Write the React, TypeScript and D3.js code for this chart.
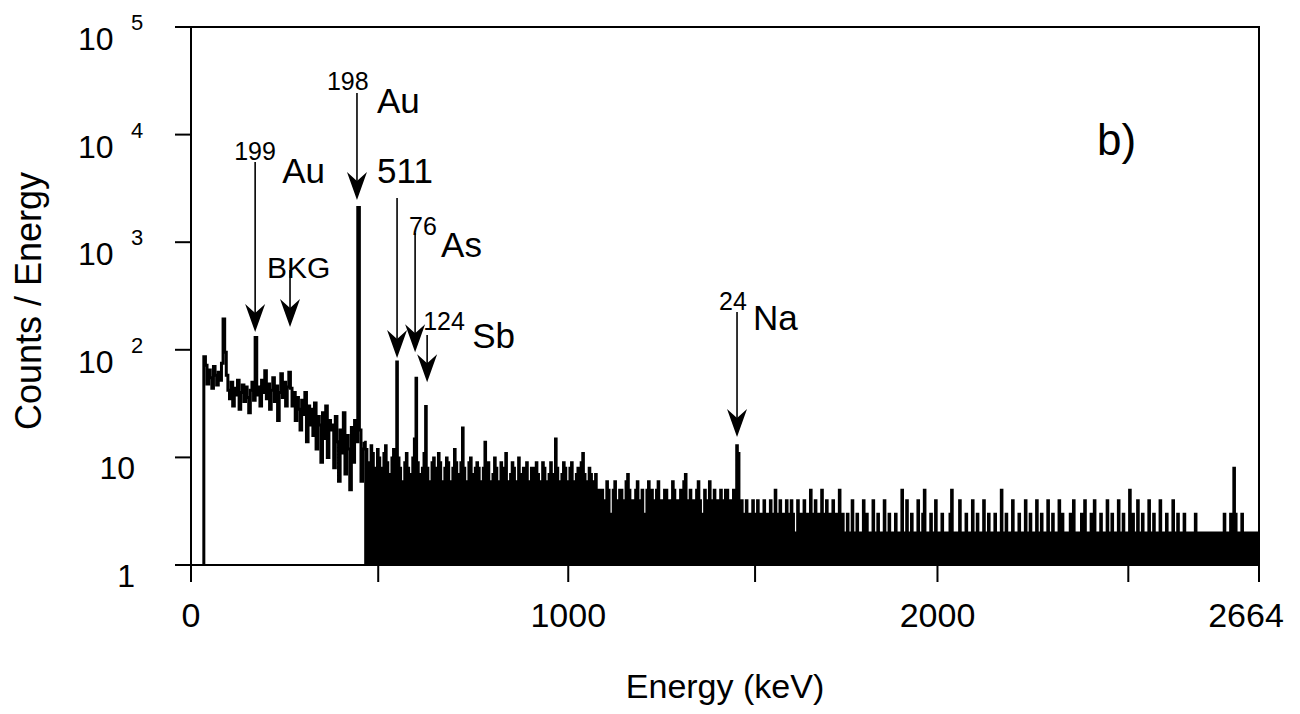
import * as d3 from "d3";

// gamma spectrum, 4 keV bins starting at 32 keV (0 = empty bin)
const BIN_KEV = 4;
const FIRST_BIN_KEV = 32;
const MAX_KEV = 2664;

const counts32to432 = [
  86, 72, 48, 65, 55, 44, 70, 58, 47, 62, 52, 75, 193, 95, 58, 42, 35, 50, 30, 44,
  38, 52, 28, 40, 47, 33, 45, 36, 26, 42, 50, 34, 130, 38, 45, 30, 52, 40, 64, 35,
  48, 28, 42, 55, 33, 46, 22, 40, 60, 36, 50, 30, 45, 62, 44, 30, 40, 22, 36, 28,
  18, 34, 25, 40, 14, 30, 20, 28, 16, 32, 12, 24, 20, 9, 26, 15, 30, 10, 22, 18,
  20, 8, 24, 14, 6, 18, 11, 26, 7, 16, 12, 5, 19, 9, 22, 14, 2100, 18, 6, 12,
];
const counts432to832 = [
  14, 12, 9, 9, 13, 11, 7, 8, 12, 10, 8, 8, 11, 13, 9, 7, 7, 10, 12, 9,
  78, 10, 8, 6, 6, 9, 11, 8, 7, 7, 10, 15, 55, 9, 7, 6, 8, 11, 30, 8,
  6, 6, 9, 10, 8, 7, 11, 9, 6, 6, 8, 10, 9, 6, 5, 8, 12, 9, 7, 7,
  9, 19, 8, 6, 6, 9, 10, 7, 5, 8, 9, 8, 6, 6, 8, 14, 7, 9, 6, 5,
  7, 10, 8, 6, 6, 9, 7, 8, 11, 6, 5, 7, 9, 8, 6, 6, 10, 7, 5, 8,
];
const counts832to1232 = [
  7, 9, 6, 5, 8, 8, 6, 9, 7, 5, 6, 9, 8, 6, 5, 7, 9, 7, 6, 15,
  8, 6, 5, 7, 9, 8, 6, 6, 8, 9, 6, 5, 7, 8, 6, 9, 11, 7, 5, 6,
  8, 7, 5, 6, 7, 5, 4, 5, 5, 4, 4, 6, 5, 3, 3, 5, 6, 4, 4, 5,
  5, 4, 3, 6, 7, 5, 4, 4, 3, 5, 6, 4, 4, 5, 3, 3, 5, 6, 4, 5,
  4, 3, 5, 6, 4, 4, 3, 5, 5, 4, 3, 4, 6, 5, 4, 3, 4, 5, 4, 6,
];
const counts1232to1632 = [
  7, 4, 3, 5, 4, 4, 3, 5, 6, 4, 3, 3, 5, 4, 4, 6, 3, 4, 5, 4,
  3, 4, 5, 4, 3, 5, 5, 4, 3, 4, 5, 4, 13, 11, 2, 4, 3, 2, 4, 3,
  3, 2, 4, 2, 3, 4, 2, 3, 2, 4, 3, 2, 3, 4, 2, 3, 5, 2, 3, 4,
  2, 3, 2, 4, 3, 2, 4, 3, 2, 2, 4, 3, 2, 3, 4, 2, 3, 2, 5, 3,
  2, 4, 2, 3, 2, 5, 3, 2, 4, 2, 3, 2, 4, 3, 2, 3, 5, 2, 3, 2,
];
const counts1632to2032 = [
  2, 3, 0, 2, 4, 2, 0, 3, 2, 2, 0, 4, 2, 3, 0, 2, 2, 4, 0, 2,
  3, 2, 0, 2, 4, 0, 2, 3, 2, 0, 2, 3, 0, 2, 2, 5, 0, 2, 4, 2,
  0, 3, 2, 2, 0, 4, 2, 0, 3, 5, 2, 0, 2, 3, 2, 0, 4, 2, 2, 0,
  3, 2, 0, 2, 2, 3, 5, 0, 2, 2, 0, 4, 2, 2, 0, 3, 2, 0, 2, 4,
  2, 0, 3, 2, 2, 0, 4, 2, 0, 3, 2, 2, 0, 3, 2, 2, 0, 5, 2, 0,
];
const counts2032to2432 = [
  3, 2, 0, 2, 4, 2, 0, 2, 3, 0, 2, 2, 4, 0, 2, 3, 2, 0, 2, 4,
  0, 2, 3, 2, 0, 2, 4, 2, 0, 3, 2, 2, 0, 4, 2, 3, 0, 2, 2, 0,
  3, 2, 4, 0, 2, 2, 0, 3, 2, 4, 0, 2, 2, 3, 0, 4, 2, 2, 0, 3,
  2, 0, 2, 4, 2, 0, 3, 2, 2, 0, 4, 2, 0, 3, 2, 2, 0, 5, 2, 3,
  0, 2, 4, 2, 0, 3, 2, 2, 0, 4, 2, 0, 3, 2, 2, 0, 4, 2, 0, 2,
];
const counts2432to2664 = [
  3, 2, 0, 2, 4, 2, 0, 3, 2, 0, 2, 3, 2, 0, 2, 2, 0, 2, 3, 0,
  2, 2, 0, 2, 2, 0, 2, 2, 0, 2, 2, 0, 2, 2, 0, 2, 3, 0, 2, 2,
  3, 3, 8, 3, 2, 0, 2, 3, 0, 2, 2, 0, 2, 2, 2, 0, 2, 2,
];

const xTickKeV = [0, 467, 941, 1407, 1862, 2338, 2664];
const xTickText = ["0", "", "1000", "", "2000", "", "2664"];

const yTickValues = [1, 10, 100, 1000, 10000, 100000];
const yTickBase = ["1", "10", "10", "10", "10", "10"];
const yTickExp = ["", "", "2", "3", "4", "5"];

// peak markers: arrow from label down onto the line
const markSup = ["199", "", "198", "", "76", "124", "24"];
const markText = ["Au", "BKG", "Au", "511", "As", "Sb", "Na"];
const markKeV = [160, 247, 414, 514, 559, 589, 1362];
const markTopCount = [5560, 552, 24400, 2580, 1220, 137, 225];
const markTipCount = [146, 163, 2470, 84, 95, 50, 15.5];

// label placement relative to arrow top: [supDx, supDy, textDx, textDy]
const LABEL_OFFSETS = [
  [-21, -2, 27, 21],
  [0, 0, -23, 8],
  [-30, -3, 20, 20],
  [0, 0, -20, -15],
  [-6, 2, 26, 24],
  [-4, -5, 45, 13],
  [-18, -2, 16, 18],
];

const FONT = "'Liberation Sans', Arial, Helvetica, sans-serif";

export default function App() {
  const width = 1300;
  const height = 714;
  const left = 191;
  const right = 1259;
  const top = 27;
  const bottom = 565;

  const x = d3.scaleLinear().domain([0, MAX_KEV]).range([left, right]);
  const y = d3.scaleLog().domain([1, 1e5]).range([bottom, top]);

  const spectrum = [
    ...counts32to432,
    ...counts432to832,
    ...counts832to1232,
    ...counts1232to1632,
    ...counts1632to2032,
    ...counts2032to2432,
    ...counts2432to2664,
  ];

  const pts: [number, number][] = [[FIRST_BIN_KEV, 1]];
  spectrum.forEach((c, i) => pts.push([FIRST_BIN_KEV + i * BIN_KEV, Math.max(c, 1)]));
  pts.push([MAX_KEV, Math.max(spectrum[spectrum.length - 1], 1)]);

  // low-energy part (dense band) vs. the sparse tail above the 198Au line
  const nLow = counts32to432.length;
  const lowPts = pts.slice(0, nLow + 2);
  const tailPts = pts.slice(nLow + 1);

  const line = d3
    .line<[number, number]>()
    .x((d) => x(d[0]))
    .y((d) => y(d[1]))
    .curve(d3.curveStepAfter);

  const area = d3
    .area<[number, number]>()
    .x((d) => x(d[0]))
    .y0(bottom)
    .y1((d) => y(d[1]))
    .curve(d3.curveStepAfter);

  const arrowHead = (cx: number, cy: number) =>
    `M${cx},${cy} L${cx - 10},${cy - 28} L${cx},${cy - 19} L${cx + 10},${cy - 28} Z`;

  return (
    <svg
      width={width}
      height={height}
      style={{ position: "absolute", left: 0, top: 0, background: "#fff" }}
      fontFamily={FONT}
    >
      {/* spectrum */}
      <path d={area(tailPts) || ""} fill="#000" />
      <path d={line(tailPts) || ""} fill="none" stroke="#000" strokeWidth={2} />
      <path d={line(lowPts) || ""} fill="none" stroke="#000" strokeWidth={3} />

      {/* frame */}
      <rect
        x={left}
        y={top}
        width={right - left}
        height={bottom - top}
        fill="none"
        stroke="#000"
        strokeWidth={2}
      />

      {/* y axis */}
      {yTickValues.map((v, i) => {
        const ty = y(v);
        return (
          <g key={"y" + v}>
            <line x1={left - 16} x2={left} y1={ty} y2={ty} stroke="#000" strokeWidth={2} />
            {yTickExp[i] ? (
              <>
                <text x={78} y={ty + 23} fontSize={32} fill="#000">
                  {yTickBase[i]}
                </text>
                <text x={131} y={ty + 3} fontSize={22} fill="#000">
                  {yTickExp[i]}
                </text>
              </>
            ) : (
              <text x={135} y={ty + 22} fontSize={32} textAnchor="end" fill="#000">
                {yTickBase[i]}
              </text>
            )}
          </g>
        );
      })}

      {/* x axis */}
      {xTickKeV.map((v, i) => {
        const tx = x(v);
        const last = i === xTickKeV.length - 1;
        return (
          <g key={"x" + v}>
            <line x1={tx} x2={tx} y1={bottom} y2={bottom + 17} stroke="#000" strokeWidth={2} />
            {xTickText[i] && (
              <text
                x={last ? tx - 13 : tx}
                y={627}
                fontSize={34}
                textAnchor="middle"
                fill="#000"
              >
                {xTickText[i]}
              </text>
            )}
          </g>
        );
      })}

      <text x={(left + right) / 2} y={698} fontSize={34} textAnchor="middle" fill="#000">
        Energy (keV)
      </text>
      <text
        transform={`translate(41,301) rotate(-90)`}
        fontSize={36}
        textAnchor="middle"
        fill="#000"
      >
        Counts / Energy
      </text>

      <text x={1097} y={155} fontSize={44} fill="#000">
        b)
      </text>

      {/* peak markers */}
      {markKeV.map((k, i) => {
        const ax = x(k);
        const y0 = y(markTopCount[i]);
        const y1 = y(markTipCount[i]);
        const [sdx, sdy, tdx, tdy] = LABEL_OFFSETS[i];
        return (
          <g key={"m" + i}>
            <line x1={ax} x2={ax} y1={y0} y2={y1 - 12} stroke="#000" strokeWidth={1.6} />
            <path d={arrowHead(ax, y1)} fill="#000" />
            {markSup[i] && (
              <text x={ax + sdx} y={y0 + sdy} fontSize={25} fill="#000">
                {markSup[i]}
              </text>
            )}
            <text
              x={ax + tdx}
              y={y0 + tdy}
              fontSize={markText[i] === "BKG" ? 30 : 35}
              fill="#000"
            >
              {markText[i]}
            </text>
          </g>
        );
      })}
    </svg>
  );
}
